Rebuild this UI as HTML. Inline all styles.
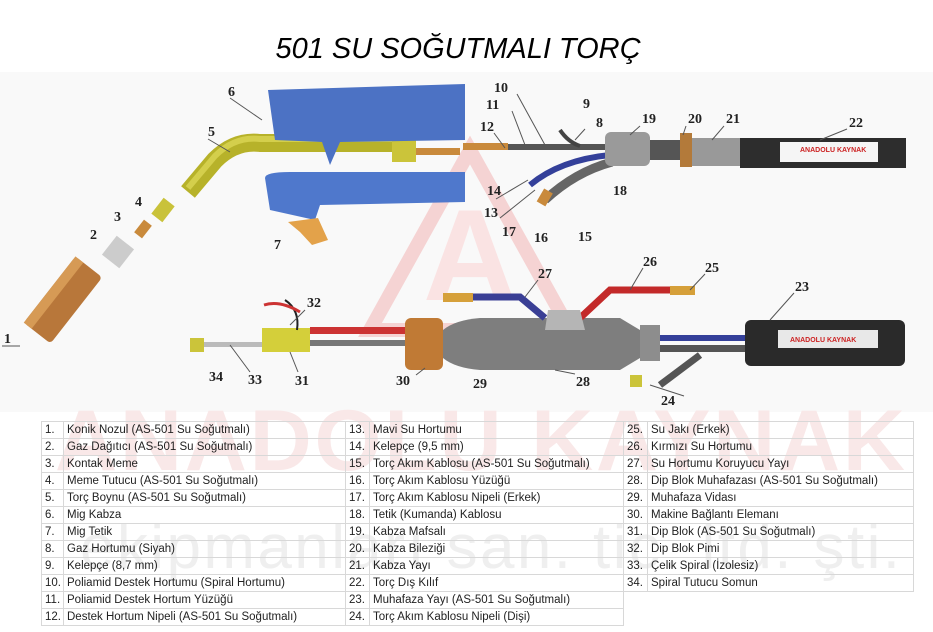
<!DOCTYPE html>
<html><head><meta charset="utf-8"><style>
html,body{margin:0;padding:0;background:#fff;}
#w{position:relative;width:933px;height:632px;overflow:hidden;background:#fff;}
svg{position:absolute;left:0;top:0;}
table{position:absolute;border-collapse:collapse;table-layout:fixed;font-family:"Liberation Sans",sans-serif;font-size:11.5px;color:#222;}
td{border:1px solid #d8d8d8;height:16px;padding:0 0 0 3px;white-space:nowrap;overflow:hidden;}
</style></head><body><div id="w">
<svg width="933" height="632" viewBox="0 0 933 632" font-family="Liberation Serif,serif">
<rect x="0" y="72" width="933" height="340" fill="#f9f9f9"/>
<polygon points="470,150 370,330 570,330" fill="none" stroke="#f5d3d3" stroke-width="14"/>
<text x="470" y="300" font-size="130" font-family="Liberation Sans" font-weight="bold" fill="#fae3e3" text-anchor="middle">A</text>
<text x="480" y="470" font-size="86" font-family="Liberation Sans" font-weight="bold" fill="#f9e8e8" text-anchor="middle" textLength="850">ANADOLU KAYNAK</text>
<text x="490" y="568" font-size="62" font-family="Liberation Sans" fill="#efefef" text-anchor="middle" textLength="820">ekipmanları san. tic. ltd. şti.</text>
<text x="458" y="58" font-size="29" font-family="Liberation Sans" font-style="italic" text-anchor="middle" textLength="365" lengthAdjust="spacingAndGlyphs">501 SU SOĞUTMALI TORÇ</text>
<g transform="translate(63,300) rotate(-52)"><rect x="-42" y="-17" width="84" height="34" rx="4" fill="#b8773a"/><rect x="-42" y="-17" width="84" height="10" fill="#d69a55"/></g>
<g transform="translate(118,252) rotate(-52)"><rect x="-12" y="-11" width="24" height="22" fill="#ccc"/></g>
<g transform="translate(143,229) rotate(-52)"><rect x="-8" y="-5" width="16" height="10" fill="#c98a3c"/></g>
<g transform="translate(163,210) rotate(-52)"><rect x="-10" y="-7" width="20" height="14" fill="#c9c23a"/></g>
<path d="M188,192 L215,160 Q235,140 260,143 L395,143" fill="none" stroke="#b7b22a" stroke-width="18"/>
<path d="M188,192 L215,160 Q235,140 260,143 L395,143" fill="none" stroke="#d4cf4c" stroke-width="6" transform="translate(0,-4)"/>
<rect x="392" y="132" width="24" height="30" fill="#cbc43a"/>
<rect x="416" y="148" width="44" height="7" fill="#c98a3c"/>
<path d="M268,90 L465,84 L465,140 L340,142 L330,165 L322,142 L275,140 Z" fill="#4c72c4"/>
<path d="M265,178 Q265,172 290,172 L465,172 L465,202 L320,205 L315,220 L270,210 Z" fill="#4f78cc"/>
<polygon points="288,222 318,218 328,240 312,245 300,232" fill="#e3a24a"/>
<rect x="463" y="143" width="45" height="7" fill="#c98a3c"/>
<line x1="508" y1="147" x2="610" y2="147" stroke="#555" stroke-width="6"/>
<path d="M530,185 Q560,160 610,155" stroke="#34409a" stroke-width="6" fill="none"/>
<path d="M545,200 Q575,172 612,162" stroke="#666" stroke-width="9" fill="none"/>
<path d="M560,130 Q568,142 580,146" stroke="#444" stroke-width="4" fill="none"/>
<rect x="540" y="190" width="10" height="15" fill="#c98a3c" transform="rotate(30 545 197)"/>
<rect x="605" y="132" width="45" height="34" rx="6" fill="#9a9a9a"/>
<rect x="650" y="140" width="30" height="20" fill="#555"/>
<rect x="680" y="133" width="12" height="34" fill="#b37a3a"/>
<rect x="692" y="138" width="50" height="28" fill="#999"/>
<rect x="740" y="138" width="166" height="30" fill="#2d2d2d"/>
<rect x="780" y="142" width="98" height="20" fill="#f5f5f5"/>
<text x="800" y="152" font-size="7" font-family="Liberation Sans" font-weight="bold" fill="#c22">ANADOLU KAYNAK</text>
<rect x="190" y="338" width="14" height="14" fill="#cbc43a"/>
<rect x="204" y="342" width="60" height="5" fill="#bbb"/>
<rect x="262" y="328" width="48" height="24" fill="#d4cf3a"/>
<path d="M285,300 Q300,310 297,330" stroke="#222" stroke-width="2" fill="none"/>
<path d="M264,305 Q280,300 300,312" stroke="#c33" stroke-width="3" fill="none"/>
<rect x="310" y="327" width="100" height="7" fill="#c33"/>
<rect x="310" y="340" width="100" height="6" fill="#777"/>
<rect x="405" y="318" width="38" height="52" rx="6" fill="#c07a35"/>
<path d="M443,330 Q455,320 480,318 L620,318 L640,330 L640,358 L620,370 L480,370 Q455,368 443,358 Z" fill="#7e7e7e"/>
<rect x="640" y="325" width="20" height="36" fill="#8d8d8d"/>
<rect x="660" y="335" width="90" height="6" fill="#34409a"/>
<rect x="660" y="345" width="90" height="7" fill="#555"/>
<path d="M455,297 L520,297 L545,318" stroke="#3a3f95" stroke-width="7" fill="none"/>
<rect x="443" y="293" width="30" height="9" fill="#d6a03a"/>
<path d="M580,318 L610,290 L680,290" stroke="#c32a2a" stroke-width="7" fill="none"/>
<rect x="670" y="286" width="25" height="9" fill="#d6a03a"/>
<polygon points="548,310 580,310 585,330 545,330" fill="#b5b5b5"/>
<rect x="745" y="320" width="160" height="46" rx="6" fill="#2a2a2a"/>
<rect x="778" y="330" width="100" height="18" fill="#e8e8e8"/>
<text x="790" y="342" font-size="7" font-family="Liberation Sans" font-weight="bold" fill="#c22">ANADOLU KAYNAK</text>
<path d="M700,355 Q680,370 660,385" stroke="#555" stroke-width="7" fill="none"/>
<rect x="630" y="375" width="12" height="12" fill="#cbc43a"/>
<g font-size="14" font-weight="bold" fill="#222">
<text x="4" y="343">1</text><text x="90" y="239">2</text><text x="114" y="221">3</text><text x="135" y="206">4</text>
<text x="208" y="136">5</text><text x="228" y="96">6</text><text x="274" y="249">7</text><text x="596" y="127">8</text>
<text x="583" y="108">9</text><text x="494" y="92">10</text><text x="486" y="109">11</text><text x="480" y="131">12</text>
<text x="484" y="217">13</text><text x="487" y="195">14</text><text x="578" y="241">15</text><text x="534" y="242">16</text>
<text x="502" y="236">17</text><text x="613" y="195">18</text><text x="642" y="123">19</text><text x="688" y="123">20</text>
<text x="726" y="123">21</text><text x="849" y="127">22</text><text x="795" y="291">23</text><text x="661" y="405">24</text>
<text x="705" y="272">25</text><text x="643" y="266">26</text><text x="538" y="278">27</text><text x="576" y="386">28</text>
<text x="473" y="388">29</text><text x="396" y="385">30</text><text x="295" y="385">31</text><text x="307" y="307">32</text>
<text x="248" y="384">33</text><text x="209" y="381">34</text>
</g>
<g stroke="#555" stroke-width="1" fill="none">
<path d="M230,98 L262,120"/><path d="M208,139 L230,152"/><path d="M2,346 L20,346"/>
<path d="M585,129 L575,140"/><path d="M517,94 L545,145"/><path d="M512,111 L525,145"/>
<path d="M494,133 L505,148"/><path d="M500,218 L535,190"/><path d="M496,199 L528,180"/>
<path d="M640,126 L630,135"/><path d="M686,126 L683,135"/><path d="M724,126 L712,140"/>
<path d="M847,129 L820,140"/><path d="M794,293 L770,320"/><path d="M684,396 L650,385"/>
<path d="M705,274 L690,290"/><path d="M643,268 L630,290"/><path d="M538,280 L525,297"/>
<path d="M575,374 L555,370"/><path d="M416,375 L425,368"/><path d="M298,372 L290,352"/>
<path d="M305,310 L290,325"/><path d="M250,372 L230,345"/>
</g>
</svg>
<table style="left:41px;top:421px;width:872px;">
<colgroup><col style="width:22px"><col style="width:282px"><col style="width:24px"><col style="width:254px"><col style="width:24px"><col style="width:266px"></colgroup>
<tr><td>1.</td><td>Konik Nozul (AS-501 Su Soğutmalı)</td><td>13.</td><td>Mavi Su Hortumu</td><td>25.</td><td>Su Jakı (Erkek)</td></tr>
<tr><td>2.</td><td>Gaz Dağıtıcı (AS-501 Su Soğutmalı)</td><td>14.</td><td>Kelepçe (9,5 mm)</td><td>26.</td><td>Kırmızı Su Hortumu</td></tr>
<tr><td>3.</td><td>Kontak Meme</td><td>15.</td><td>Torç Akım Kablosu (AS-501 Su Soğutmalı)</td><td>27.</td><td>Su Hortumu Koruyucu Yayı</td></tr>
<tr><td>4.</td><td>Meme Tutucu (AS-501 Su Soğutmalı)</td><td>16.</td><td>Torç Akım Kablosu Yüzüğü</td><td>28.</td><td>Dip Blok Muhafazası (AS-501 Su Soğutmalı)</td></tr>
<tr><td>5.</td><td>Torç Boynu (AS-501 Su Soğutmalı)</td><td>17.</td><td>Torç Akım Kablosu Nipeli (Erkek)</td><td>29.</td><td>Muhafaza Vidası</td></tr>
<tr><td>6.</td><td>Mig Kabza</td><td>18.</td><td>Tetik (Kumanda) Kablosu</td><td>30.</td><td>Makine Bağlantı Elemanı</td></tr>
<tr><td>7.</td><td>Mig Tetik</td><td>19.</td><td>Kabza Mafsalı</td><td>31.</td><td>Dip Blok (AS-501 Su Soğutmalı)</td></tr>
<tr><td>8.</td><td>Gaz Hortumu (Siyah)</td><td>20.</td><td>Kabza Bileziği</td><td>32.</td><td>Dip Blok Pimi</td></tr>
<tr><td>9.</td><td>Kelepçe (8,7 mm)</td><td>21.</td><td>Kabza Yayı</td><td>33.</td><td>Çelik Spiral (İzolesiz)</td></tr>
<tr><td>10.</td><td>Poliamid Destek Hortumu (Spiral Hortumu)</td><td>22.</td><td>Torç Dış Kılıf</td><td>34.</td><td>Spiral Tutucu Somun</td></tr>
<tr><td>11.</td><td>Poliamid Destek Hortum Yüzüğü</td><td>23.</td><td>Muhafaza Yayı (AS-501 Su Soğutmalı)</td><td style="border:none;border-left:1px solid #d8d8d8"></td><td style="border:none"></td></tr>
<tr><td>12.</td><td>Destek Hortum Nipeli (AS-501 Su Soğutmalı)</td><td>24.</td><td>Torç Akım Kablosu Nipeli (Dişi)</td><td style="border:none;border-left:1px solid #d8d8d8"></td><td style="border:none"></td></tr>
</table>
</div></body></html>
